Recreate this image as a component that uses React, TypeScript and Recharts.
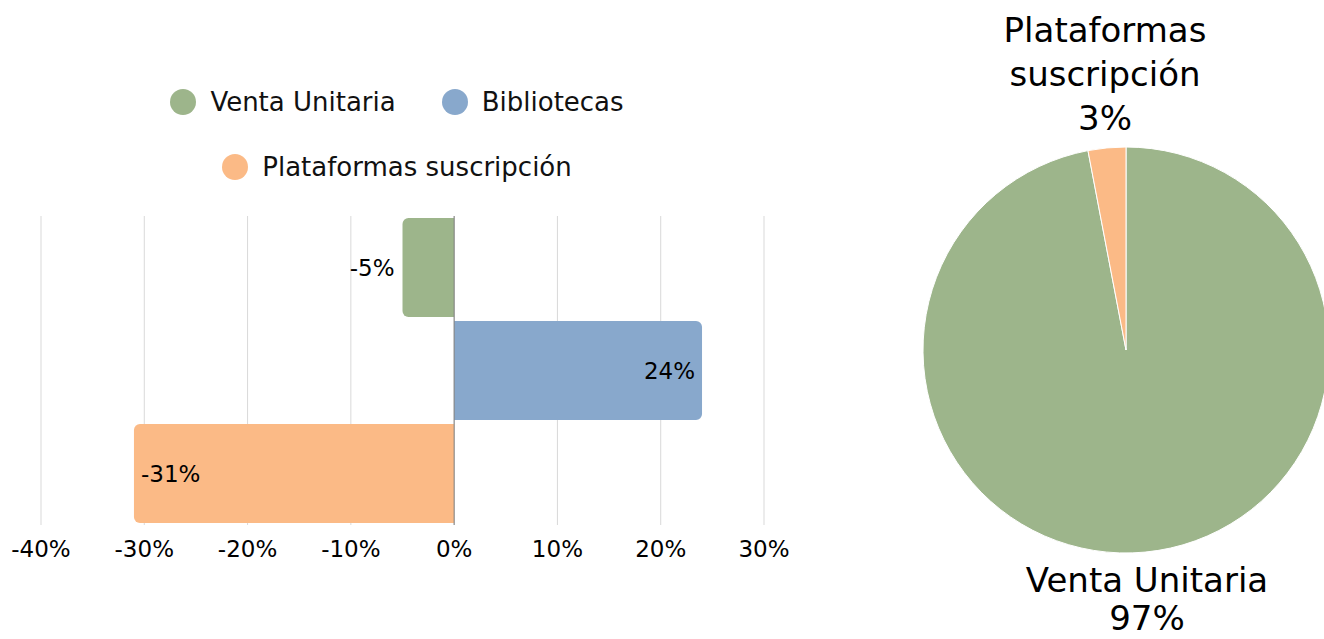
import React from 'react';
import { BarChart, Bar, XAxis, YAxis, CartesianGrid, Legend, LabelList, ReferenceLine, PieChart, Pie, Cell } from 'recharts';

const FONT = '"DejaVu Sans", sans-serif';

const barSeries = ['Venta Unitaria', 'Bibliotecas', 'Plataformas suscripción'];
const barColors = ['#9db58b', '#88a8cc', '#fbba86'];
const barValues = [-5, 24, -31];
const xTicks = [-40, -30, -20, -10, 0, 10, 20, 30];

const pieNames = ['Venta Unitaria', 'Plataformas suscripción'];
const pieValues = [97, 3];
const pieColors = ['#9db58b', '#fbba86'];

// one row per series, so each bar gets its own band
const barData = barSeries.map((name, i) => {
  const row: Record<string, any> = { cat: name };
  row[name] = barValues[i];
  return row;
});

const pieData = pieNames.map((name, i) => ({ name, value: pieValues[i] }));

// label position per series: outside end / inside end
const labelModes = ['outside', 'inside', 'inside'];

const makeBarLabel = (mode: string) => (props: any) => {
  const { value } = props;
  if (value == null || value === 0) return null;
  const vb = props.viewBox || props;
  const x = Number(vb.x);
  const w = Number(vb.width);
  const y = Number(vb.y);
  const h = Number(vb.height);
  const left = Math.min(x, x + w);
  const right = Math.max(x, x + w);
  const neg = value < 0;
  let tx: number;
  let anchor: 'start' | 'end';
  if (mode === 'outside') {
    tx = neg ? left - 8 : right + 8;
    anchor = neg ? 'end' : 'start';
  } else {
    tx = neg ? left + 7 : right - 7;
    anchor = neg ? 'start' : 'end';
  }
  return (
    <text x={tx} y={y + h / 2} dy="0.35em" textAnchor={anchor} fontSize={23} fontFamily={FONT} fill="#000">
      {`${value}%`}
    </text>
  );
};

const LegendItem = ({ entry }: { entry: any }) => (
  <div style={{ display: 'flex', alignItems: 'center', height: 30, whiteSpace: 'nowrap' }}>
    <span style={{ width: 26, height: 26, borderRadius: 13, background: entry.color, marginRight: 14, display: 'inline-block', flex: 'none' }} />
    <span>{entry.value}</span>
  </div>
);

const renderLegend = (props: any) => {
  const payload = [...(props.payload || [])].sort(
    (a: any, b: any) => barSeries.indexOf(a.value) - barSeries.indexOf(b.value)
  );
  const rows = [payload.slice(0, 2), payload.slice(2)];
  return (
    <div style={{ fontFamily: FONT, fontSize: 26, color: '#111' }}>
      {rows.map((row, ri) => (
        <div key={ri} style={{ display: 'flex', justifyContent: 'center', columnGap: 46, marginTop: ri ? 35 : 0 }}>
          {row.map((entry: any) => (
            <LegendItem key={entry.value} entry={entry} />
          ))}
        </div>
      ))}
    </div>
  );
};

const RAD = Math.PI / 180;

const renderPieLabel = (props: any) => {
  const { cx, cy, midAngle, outerRadius, name, percent } = props;
  const r = outerRadius + 20;
  const ax = cx + r * Math.cos(-midAngle * RAD);
  const ay = cy + r * Math.sin(-midAngle * RAD);
  const lines = name === 'Plataformas suscripción' ? ['Plataformas', 'suscripción'] : [name];
  lines.push(`${Math.round(percent * 100)}%`);
  const above = ay < cy;
  const lh = above ? 44 : 38;
  const firstBase = above ? ay + 2 - (lines.length - 1) * lh : ay + 20;
  return (
    <text x={ax} y={firstBase} textAnchor="middle" fontSize={34} fontFamily={FONT} fill="#000">
      {lines.map((l, i) => (
        <tspan key={i} x={ax} y={firstBase + i * lh}>{l}</tspan>
      ))}
    </text>
  );
};

export default function App() {
  return (
    <div style={{ position: 'absolute', left: 0, top: 0, width: 1324, height: 639, background: '#fff', overflow: 'hidden' }}>
      <div style={{ position: 'absolute', left: 0, top: 0 }}>
        <BarChart
          width={830}
          height={639}
          data={barData}
          layout="vertical"
          stackOffset="sign"
          barCategoryGap="2%"
          margin={{ top: 216, right: 66, left: 41, bottom: 0 }}
        >
          <CartesianGrid horizontal={false} stroke="#d9d9d9" />
          <XAxis
            type="number"
            domain={[-40, 30]}
            ticks={xTicks}
            axisLine={false}
            tickLine={false}
            tickSize={6}
            tickMargin={10}
            height={114}
            tick={{ fontSize: 23, fontFamily: FONT, fill: '#000' }}
            tickFormatter={(v: number) => `${v}%`}
          />
          <YAxis type="category" dataKey="cat" hide />
          <ReferenceLine x={0} stroke="#808080" strokeWidth={1} />
          <Legend
            verticalAlign="middle"
            align="center"
            layout="horizontal"
            content={renderLegend}
            wrapperStyle={{ top: 87, left: 137, width: 520 }}
          />
          {barSeries.map((s, i) => (
            <Bar key={s} dataKey={s} stackId="a" fill={barColors[i]} radius={[0, 6, 6, 0]} isAnimationActive={false}>
              <LabelList dataKey={s} content={makeBarLabel(labelModes[i])} />
            </Bar>
          ))}
        </BarChart>
      </div>
      <div style={{ position: 'absolute', left: 800, top: 0 }}>
        <PieChart width={524} height={639} margin={{ top: 0, right: 0, bottom: 0, left: 0 }}>
          <Pie
            data={pieData}
            dataKey="value"
            nameKey="name"
            cx={326}
            cy={350}
            outerRadius={203}
            startAngle={90}
            endAngle={-270}
            stroke="#fff"
            strokeWidth={1}
            labelLine={false}
            label={renderPieLabel}
            isAnimationActive={false}
          >
            {pieData.map((d, i) => (
              <Cell key={d.name} fill={pieColors[i]} />
            ))}
          </Pie>
        </PieChart>
      </div>
    </div>
  );
}
